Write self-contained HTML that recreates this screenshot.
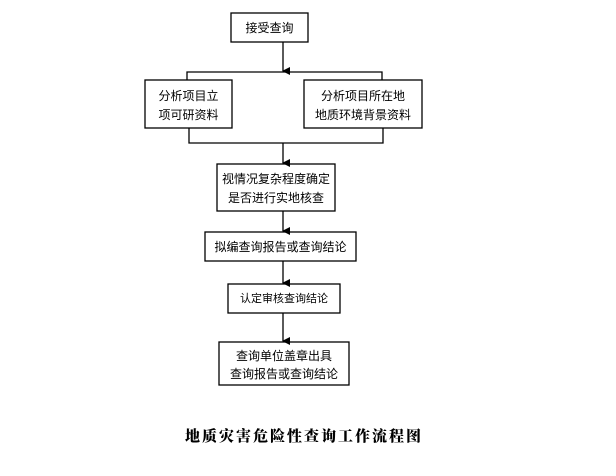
<!DOCTYPE html>
<html><head><meta charset="utf-8"><style>
body{margin:0;background:#fff;width:616px;height:471px;overflow:hidden}
svg text{font-family:"Liberation Sans","Noto Sans CJK SC",sans-serif;font-size:12px;fill:#000}
</style></head><body>
<svg width="616" height="471" viewBox="0 0 616 471">
<defs><marker id="a" markerWidth="8" markerHeight="8" refX="4" refY="7" orient="auto" markerUnits="userSpaceOnUse"><path d="M0,0 L8,0 L4,8z" fill="#000"/></marker></defs>
<g fill="none" stroke="#000" stroke-width="1.3">
<rect x="231" y="13" width="77" height="29"/>
<rect x="145" y="80" width="87" height="48"/>
<rect x="304" y="80" width="118" height="48"/>
<rect x="217" y="164" width="118" height="47"/>
<rect x="205" y="232" width="151" height="29"/>
<rect x="228" y="284" width="112" height="29"/>
<rect x="219" y="342" width="130" height="43"/>
<line x1="283" y1="42" x2="283" y2="71" marker-end="url(#a)"/>
<polyline points="187,80 187,72 382,72 382,80"/>
<polyline points="189,128 189,143 383,143 383,128"/>
<line x1="283" y1="143" x2="283" y2="163" marker-end="url(#a)"/>
<line x1="283" y1="211" x2="283" y2="231" marker-end="url(#a)"/>
<line x1="283" y1="261" x2="283" y2="283" marker-end="url(#a)"/>
<line x1="283" y1="313" x2="283" y2="341" marker-end="url(#a)"/>
</g>
<text x="269.5" y="32" text-anchor="middle">接受查询</text>
<text x="188.5" y="100" text-anchor="middle">分析项目立</text>
<text x="188.5" y="119" text-anchor="middle">项可研资料</text>
<text x="363" y="100" text-anchor="middle">分析项目所在地</text>
<text x="363" y="119" text-anchor="middle">地质环境背景资料</text>
<text x="276" y="183" text-anchor="middle">视情况复杂程度确定</text>
<text x="276" y="202" text-anchor="middle">是否进行实地核查</text>
<text x="280.5" y="251" text-anchor="middle">拟编查询报告或查询结论</text>
<text x="284" y="302" text-anchor="middle" style="font-size:11px">认定审核查询结论</text>
<text x="284" y="360" text-anchor="middle">查询单位盖章出具</text>
<text x="284" y="378" text-anchor="middle">查询报告或查询结论</text>
<text x="304" y="441" text-anchor="middle" style="font-family:'Noto Serif CJK SC',serif;font-size:15px;font-weight:900;letter-spacing:2px">地质灾害危险性查询工作流程图</text>
</svg>
</body></html>
